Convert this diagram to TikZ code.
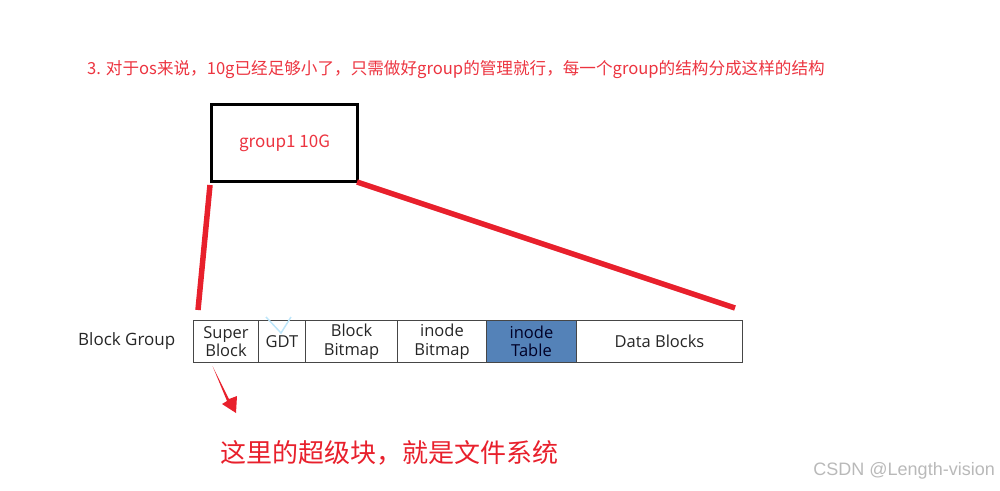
\documentclass[tikz,border=0pt]{standalone}
\usepackage{fontspec}
\setmainfont{Open Sans}
\newfontfamily\cjk{Noto Sans CJK SC}
\definecolor{txtred}{RGB}{236,52,64}
\definecolor{linered}{RGB}{232,32,44}
\definecolor{cellblue}{RGB}{84,130,184}
\definecolor{cellline}{RGB}{70,70,70}
\definecolor{wm}{RGB}{185,185,185}
\definecolor{ghost}{RGB}{190,230,250}
\begin{document}
\begin{tikzpicture}[x=1pt,y=-1pt,
  cell/.style={draw=cellline, line width=1pt, minimum height=42pt, inner sep=0pt,
    anchor=north west, align=center, font=\fontsize{16.5}{18.5}\selectfont, text=black!85},
  redline/.style={draw=linered, line width=5.5pt}]
\useasboundingbox (0,0) rectangle (1000,490);
\node[anchor=west, text=txtred, font=\cjk\fontsize{16.6}{20}\selectfont, inner sep=0pt] (title) at (87,70)
  {3. 对于os来说，10g已经足够小了，只需做好group的管理就行，每一个group的结构分成这样的结构};
\node[draw=black, line width=3pt, minimum width=146pt, minimum height=77pt, anchor=north west,
  text=txtred, font=\cjk\fontsize{17}{20}\selectfont] (g) at (210,103) {group1 10G};
\node[anchor=west, font=\fontsize{17}{19}\selectfont, text=black!85, inner sep=0pt] (lbl) at (78,341) {Block Group};
\node[cell, minimum width=65pt] (sb) at (193,320) {Super\\Block};
\node[cell, minimum width=47pt] (gdt) at (258,320) {GDT};
\node[cell, minimum width=92pt] (bb) at (305,320) {Block\\Bitmap};
\node[cell, minimum width=89pt] (ib) at (397,320) {inode\\Bitmap};
\node[cell, minimum width=90pt, fill=cellblue, text=black!75!blue!60!black] (it) at (486,320) {inode\\Table};
\node[cell, minimum width=166pt] (db) at (576,320) {Data Blocks};
\draw[ghost, line width=1.5pt] (266,317) -- (281,333) -- (291,317);
\coordinate (l1) at (210,185);
\coordinate (l2) at (198,310);
\coordinate (r1) at (357,182);
\coordinate (r2) at (735,308);
\draw[redline] (l1) -- (l2);
\draw[redline] (r1) -- (r2);
\fill[linered] (212.5,366) -- (229,399) -- (237,396) -- (236,413) -- (222,404) -- (227,401) -- cycle;
\node[anchor=west, text=linered, font=\cjk\fontsize{26}{30}\selectfont, inner sep=0pt] (note) at (220,453)
  {这里的超级块，就是文件系统};
\node[anchor=east, text=wm, font=\fontspec{Liberation Sans}\fontsize{18}{21}\selectfont, inner sep=0pt] (w) at (995,471)
  {CSDN @Length-vision};
\end{tikzpicture}
\end{document}
